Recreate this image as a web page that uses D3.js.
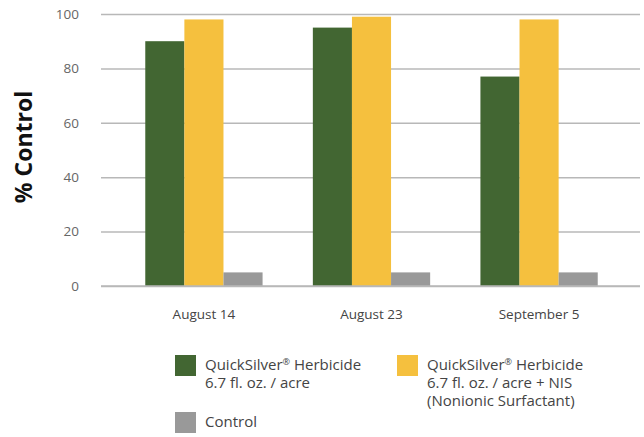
<!DOCTYPE html>
<html>
<head>
<meta charset="utf-8">
<script src="https://cdn.jsdelivr.net/npm/d3@7"></script>
<style>
  body { margin: 0; background: #fff; }
  text { font-family: 'Open Sans', sans-serif; }
</style>
</head>
<body>
<div id="chart"></div>
<script>
(function () {
  const dates = ['August 14', 'August 23', 'September 5'];
  const seriesKeys = ['qs', 'qsNis', 'control'];
  const seriesColors = ['#426632', '#f5c03e', '#999999'];
  const qsValues = [90, 95, 77];
  const qsNisValues = [98, 99, 98];
  const controlValues = [5, 5, 5];
  const yTicks = [0, 20, 40, 60, 80, 100];

  const rows = dates.map((d, i) => ({
    date: d,
    qs: qsValues[i],
    qsNis: qsNisValues[i],
    control: controlValues[i]
  }));

  const width = 644,
    height = 437;
  const margin = { top: 14, right: 4, bottom: 151, left: 101 };
  const innerW = width - margin.left - margin.right;
  const innerH = height - margin.top - margin.bottom;

  const svg = d3
    .select('#chart')
    .append('svg')
    .attr('width', width)
    .attr('height', height);

  const g = svg
    .append('g')
    .attr('transform', `translate(${margin.left},${margin.top})`);

  const x0 = d3.scaleBand().domain(dates).range([-6, 547]).padding(0.3);
  const x1 = d3.scaleBand().domain(seriesKeys).range([0, x0.bandwidth()]);
  const y = d3.scaleLinear().domain([0, 100]).range([innerH, 0]);
  const color = d3.scaleOrdinal().domain(seriesKeys).range(seriesColors);

  // gridlines + tick labels
  const yAxis = d3
    .axisLeft(y)
    .tickValues(yTicks)
    .tickSize(-innerW)
    .tickPadding(22);
  g.append('g')
    .attr('class', 'y-axis')
    .call(yAxis)
    .call((a) => a.select('.domain').remove())
    .call((a) =>
      a.selectAll('line').attr('stroke', '#b8b8b8').attr('stroke-width', 1.5)
    )
    .call((a) =>
      a
        .selectAll('text')
        .attr('fill', '#666')
        .style('font-size', '13.5px')
        .style('font-family', "'Open Sans', sans-serif")
    );

  // bars
  g.append('g')
    .selectAll('g')
    .data(rows)
    .join('g')
    .attr('transform', (d) => `translate(${x0(d.date)},0)`)
    .selectAll('rect')
    .data((d) => seriesKeys.map((k) => ({ key: k, value: d[k] })))
    .join('rect')
    .attr('x', (d) => x1(d.key))
    .attr('y', (d) => y(d.value))
    .attr('width', x1.bandwidth())
    .attr('height', (d) => innerH - y(d.value))
    .attr('fill', (d) => color(d.key));

  // baseline on top of bars
  g.append('line')
    .attr('x1', 0)
    .attr('x2', innerW)
    .attr('y1', y(0))
    .attr('y2', y(0))
    .attr('stroke', '#b8b8b8')
    .attr('stroke-width', 1.5);

  // x labels
  const xAxis = d3.axisBottom(x0).tickSize(0).tickPadding(23);
  g.append('g')
    .attr('transform', `translate(0,${innerH})`)
    .call(xAxis)
    .call((a) => a.select('.domain').remove())
    .call((a) =>
      a
        .selectAll('text')
        .attr('fill', '#444')
        .style('font-size', '13.5px')
        .style('font-family', "'Open Sans', sans-serif")
    );

  // y title
  svg
    .append('text')
    .attr('transform', 'translate(32,147) rotate(-90)')
    .attr('text-anchor', 'middle')
    .style('font-size', '23px')
    .style('font-weight', 'bold')
    .attr('fill', '#111')
    .text('% Control');

  // legend
  const legendItems = [
    { key: 'qs', x: 175, y: 355, lines: ['QuickSilver® Herbicide', '6.7 fl. oz. / acre'] },
    { key: 'qsNis', x: 397, y: 355, lines: ['QuickSilver® Herbicide', '6.7 fl. oz. / acre + NIS', '(Nonionic Surfactant)'] },
    { key: 'control', x: 175, y: 412, lines: ['Control'] }
  ];

  const legend = svg
    .append('g')
    .selectAll('g')
    .data(legendItems)
    .join('g')
    .attr('transform', (d) => `translate(${d.x},${d.y})`);

  legend
    .append('rect')
    .attr('width', 21)
    .attr('height', 21)
    .attr('fill', (d) => color(d.key));

  legend.each(function (d) {
    const t = d3
      .select(this)
      .append('text')
      .attr('fill', '#444')
      .style('font-size', '15px');
    d.lines.forEach((line, i) => {
      const tspan = t.append('tspan').attr('x', 30).attr('y', 15 + i * 18);
      const parts = line.split('®');
      if (parts.length > 1) {
        tspan.append('tspan').text(parts[0]);
        tspan
          .append('tspan')
          .attr('dy', -5)
          .style('font-size', '9px')
          .text('®');
        tspan.append('tspan').attr('dy', 5).text(parts[1]);
      } else {
        tspan.text(line);
      }
    });
  });
})();
</script>
</body>
</html>
